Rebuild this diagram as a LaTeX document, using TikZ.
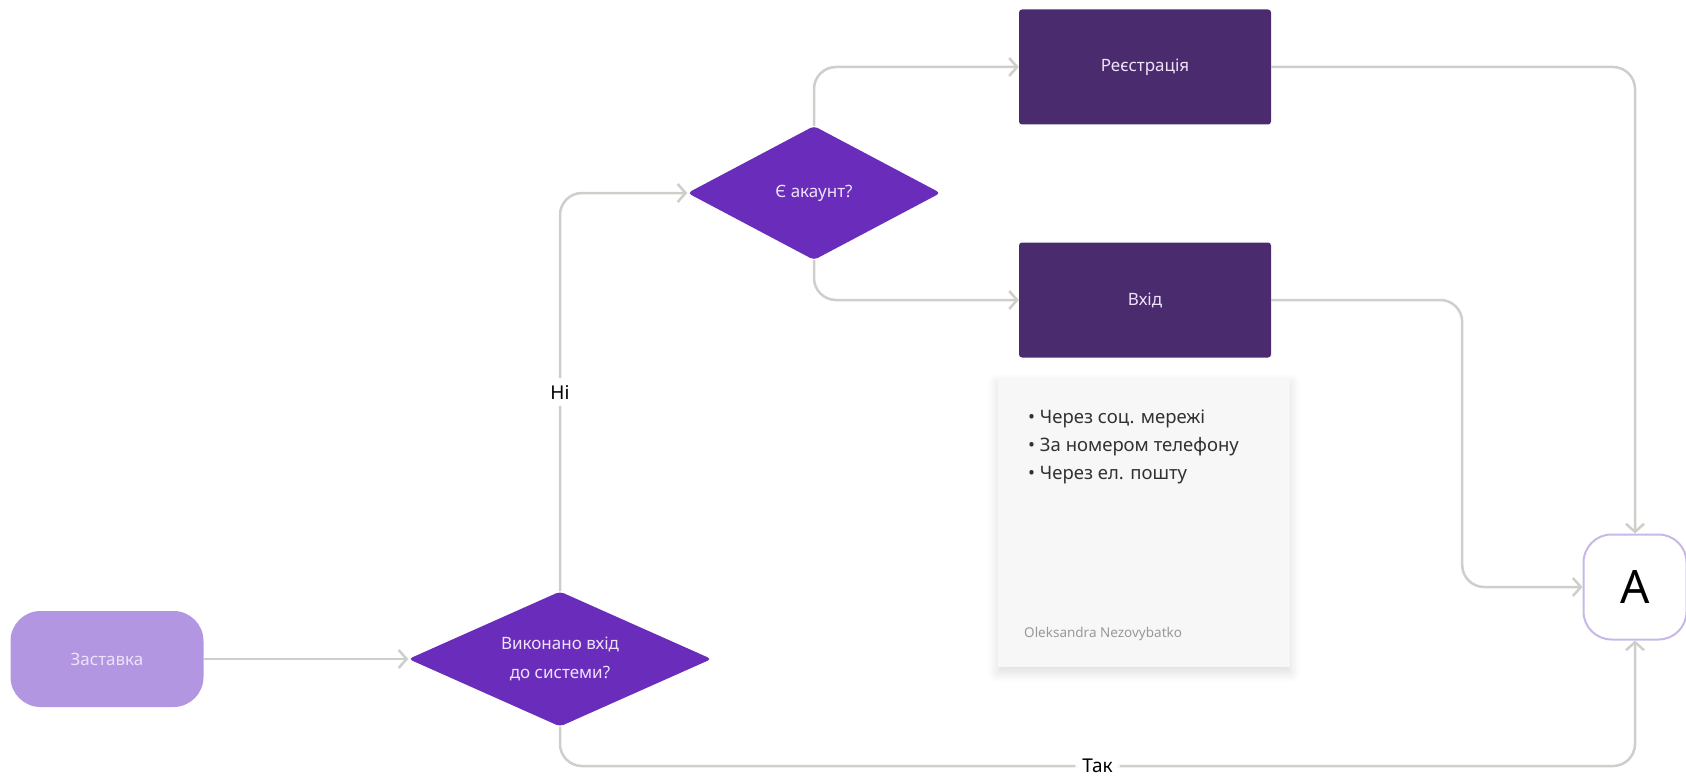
\documentclass[tikz,border=0pt]{standalone}
\usepackage{fontspec}
\setmainfont{Noto Sans}
\usetikzlibrary{shapes.geometric, arrows.meta, shadows.blur}
\definecolor{SplashLilac}{RGB}{178,150,226}
\definecolor{DecisionViolet}{RGB}{106,44,186}
\definecolor{StepPlum}{RGB}{74,44,110}
\definecolor{LabelLavender}{RGB}{238,226,250}
\definecolor{FlowGray}{RGB}{206,206,202}
\definecolor{CardGray}{RGB}{247,247,247}
\definecolor{RingLilac}{RGB}{200,184,232}
\definecolor{InkGray}{RGB}{50,50,50}

\begin{document}
\begin{tikzpicture}[x=1pt, y=-1pt,
    every node/.style={align=center, inner sep=0pt, font=\fontsize{17}{29}\selectfont},
    splash/.style={fill=SplashLilac, text=LabelLavender, rounded corners=30pt, minimum width=193pt, minimum height=96pt},
    decision/.style={diamond, fill=DecisionViolet, text=LabelLavender, rounded corners=4pt},
    stepbox/.style={fill=StepPlum, text=LabelLavender, rounded corners=3pt, minimum width=252pt, minimum height=115pt},
    flow/.style={draw=FlowGray, line width=2.5pt, rounded corners=22pt, -{Straight Barb[length=8pt, width=18pt]}},
    lbl/.style={fill=white, inner sep=7pt, text=black, font=\fontsize{19}{22}\selectfont}]
    \useasboundingbox (0,0) rectangle (1686,781);

    \node[splash] (splash) at (107,659) {Заставка};
    \node[decision, aspect=2.25, minimum width=303pt, minimum height=135pt] (login) at (560,659) {Виконано вхід\\до системи?};
    \node[decision, aspect=1.9, minimum width=253pt, minimum height=134pt] (account) at (814,193) {Є акаунт?};
    \node[stepbox] (register) at (1145,67) {Реєстрація};
    \node[stepbox] (signin) at (1145,300) {Вхід};
    \node[fill=CardGray, minimum width=292pt, minimum height=289pt,
          blur shadow={shadow xshift=0pt, shadow yshift=-6pt, shadow blur radius=10pt, shadow blur steps=10, shadow opacity=14}] (card) at (1144,522) {};
    \node[anchor=north west, align=left, text=InkGray, font=\fontsize{18.5}{28}\selectfont] (ways) at (1028,410)
        {• Через соц. мережі\\• За номером телефону\\• Через ел. пошту};
    \node[anchor=west, text=gray!80, font=\fontsize{13.5}{15}\selectfont] (author) at (1024,634) {Oleksandra Nezovybatko};
    \node[draw=RingLilac, fill=white, line width=2pt, rounded corners=28pt, minimum width=103pt, minimum height=105pt,
          font=\fontsize{46}{46}\selectfont] (A) at (1635,587) {A};
    \coordinate (yesturn) at (A.south |- 0,766);

    \draw[flow] (splash) -- (login);
    \draw[flow] (login.north) |- node[lbl, pos=0.25] {Ні} (account.west);
    \draw[flow] (login.south) |- node[lbl, pos=0.75] {Так} (yesturn) -- (A.south);
    \draw[flow] (account.north) |- (register.west);
    \draw[flow] (account.south) |- (signin.west);
    \draw[flow] (register.east) -| (A.north);
    \draw[flow] (signin.east) -- ++(191,0) |- (A.west);
\end{tikzpicture}
\end{document}
